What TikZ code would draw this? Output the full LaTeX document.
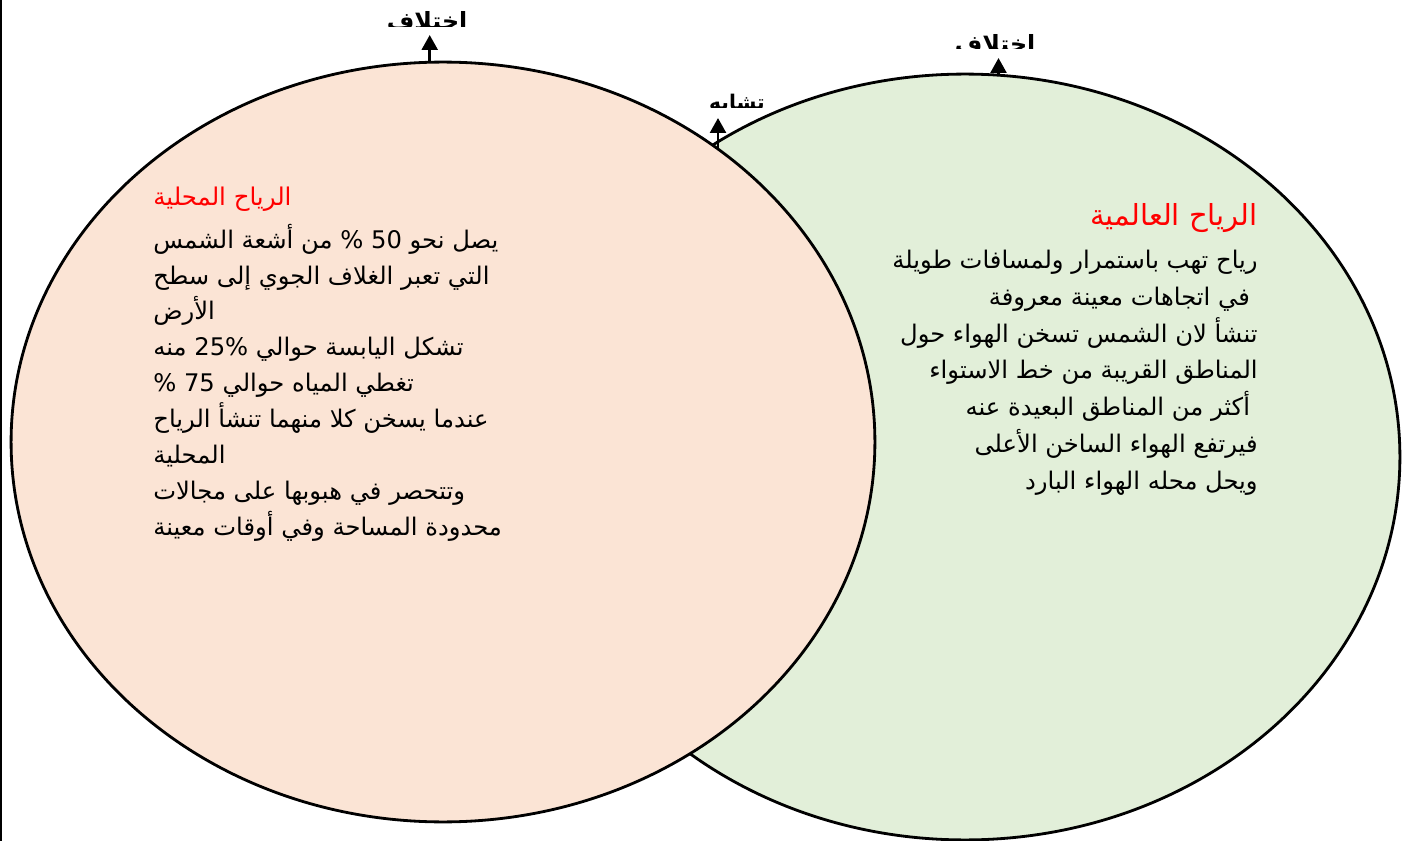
\documentclass[tikz,border=0pt]{standalone}
\usepackage{fontspec}
\newfontfamily\arabicfont[Script=Arabic]{DejaVu Sans}
\TeXXeTstate=1
\usetikzlibrary{arrows.meta,positioning,shapes.geometric}
\definecolor{localfill}{HTML}{FBE4D5}
\definecolor{globalfill}{HTML}{E2EFD9}
\definecolor{titlered}{HTML}{FF0000}

\begin{document}
\begin{tikzpicture}[x=0.02cm, y=-0.02cm,
    every node/.style={inner sep=0pt},
    bubble/.style={ellipse, draw=black, line width=1.6pt},
    body/.style={font=\arabicfont\fontsize{13.8}{20.4}\selectfont},
    heading/.style={font=\arabicfont\fontsize{13.9}{16}\selectfont, text=titlered},
    tag/.style={font=\arabicfont\bfseries\fontsize{13.5}{15}\selectfont, inner ysep=2.5pt},
    up/.style={-{Triangle[width=9pt,length=8.5pt]}, line width=1.6pt}]

    \useasboundingbox (0,0) rectangle (1414,841);
    \draw[line width=1.2pt] (1,0) -- (1,841);

    % Sets
    \node[bubble, fill=globalfill, minimum width=17.4cm, minimum height=15.32cm] (global) at (965,457) {};
    \node[bubble, fill=localfill, minimum width=17.28cm, minimum height=15.2cm] (local) at (443,442) {};
    \coordinate (meet) at (718,150);

    % Tags (cut off at the top of the page)
    \begin{scope}
        \clip (300,0) rectangle (560,27);
        \node[tag, anchor=south] (difL) at (427,35) {\beginR اختلاف\endR};
    \end{scope}
    \begin{scope}
        \clip (900,0) rectangle (1100,49);
        \node[tag, anchor=south] (difG) at (995,58) {\beginR اختلاف\endR};
    \end{scope}
    \begin{scope}
        \clip (650,60) rectangle (800,108);
        \node[tag, font=\arabicfont\bfseries\fontsize{11.5}{13}\selectfont, anchor=south] (sim) at (737,118) {\beginR تشابه\endR};
    \end{scope}

    % Arrows
    \draw[up] (local.92.4) -- (local.92.4 |- difL.south);
    \draw[up] (global.85.5) -- (global.85.5 |- difG.south);
    \draw[up] (meet) -- (meet |- sim.south);

    % Local winds
    \node[heading, anchor=base west] (locTitle) at (153,206) {\beginR الرياح المحلية\endR};
    \node[body, align=left, anchor=base west] (locText) at (153,535) {%
        \beginR يصل نحو 50 \% من أشعة الشمس\endR\\
        \beginR التي تعبر الغلاف الجوي إلى سطح\endR\\
        \beginR الأرض\endR\\
        \beginR تشكل اليابسة حوالي \beginL\hbox{25}\hbox{\%}\endL{} منه\endR\\
        \beginR تغطي المياه حوالي 75 \%\endR\\
        \beginR عندما يسخن كلا منهما تنشأ الرياح\endR\\
        \beginR المحلية\endR\\
        \beginR وتتحصر في هبوبها على مجالات\endR\\
        \beginR محدودة المساحة وفي أوقات معينة\endR};

    % Global winds
    \node[heading, font=\arabicfont\fontsize{16.5}{18}\selectfont, anchor=base east] (gloTitle) at (1258,226) {\beginR الرياح العالمية\endR};
    \node[body, font=\arabicfont\fontsize{13.8}{20.9}\selectfont, align=right, anchor=base east] (gloText) at (1258,489) {%
        \beginR رياح تهب باستمرار ولمسافات طويلة\endR\\
        \beginR\ في اتجاهات معينة معروفة\endR\\
        \beginR تنشأ لان الشمس تسخن الهواء حول\endR\\
        \beginR المناطق القريبة من خط الاستواء\endR\\
        \beginR\ أكثر من المناطق البعيدة عنه\endR\\
        \beginR فيرتفع الهواء الساخن الأعلى\endR\\
        \beginR ويحل محله الهواء البارد\endR};

\end{tikzpicture}
\end{document}
